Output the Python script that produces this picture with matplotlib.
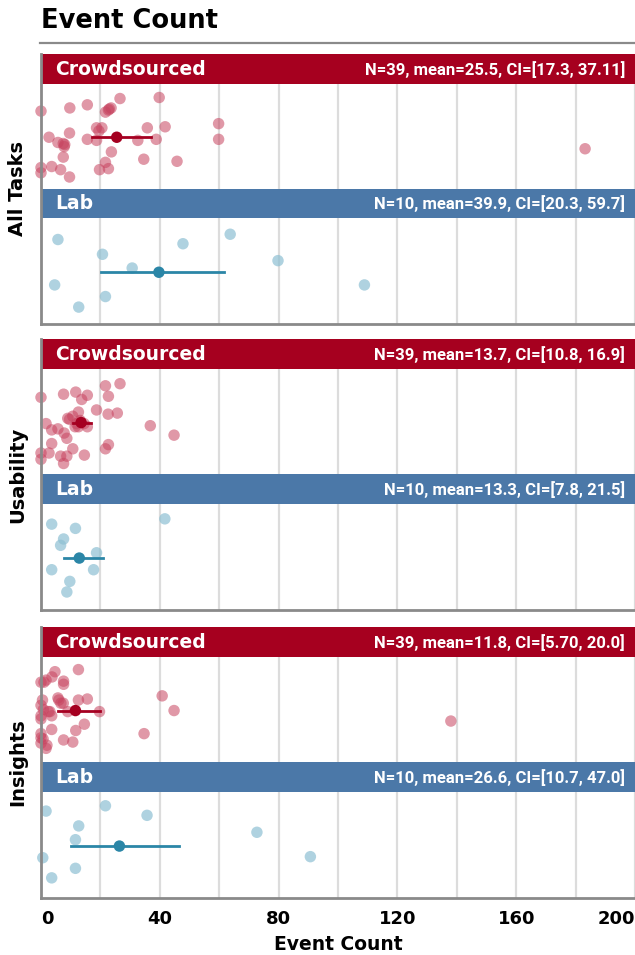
import matplotlib
matplotlib.use("Agg")
import matplotlib.pyplot as plt
from matplotlib.patches import Rectangle
from matplotlib.lines import Line2D
import matplotlib.transforms as mtransforms

plt.rcParams['font.family'] = ['DejaVu Sans']

# ---------------- data ----------------
tasks = ["All Tasks", "Usability", "Insights"]
groups = ["Crowdsourced", "Lab"]

# All Tasks
all_crowd_vals = [0, 9.7, 15.6, 26.6, 39.8, 23.6, 22.7, 21.7, 59.8, 41.8, 35.8, 18.7, 19.5,
                  9.6, 2.7, 15.6, 18.7, 32.6, 38.8, 59.8, 5.7, 7.5, 7.8, 7.5, 23.7, 21.7,
                  34.6, 45.8, 0, 0, 3.6, 6.6, 9.6, 19.7, 22.7, 183.2, 20.5, 8.0, 23.0]
all_crowd_jit = [0.26, 0.23, 0.20, 0.14, 0.13, 0.23, 0.25, 0.27, 0.38, 0.41, 0.42, 0.42, 0.45,
                 0.47, 0.51, 0.53, 0.54, 0.54, 0.53, 0.53, 0.56, 0.57, 0.60, 0.70, 0.65, 0.75,
                 0.72, 0.74, 0.80, 0.85, 0.79, 0.82, 0.89, 0.82, 0.81, 0.62, 0.42, 0.58, 0.24]
all_lab_vals = [5.7, 20.7, 47.8, 63.7, 79.8, 30.7, 4.6, 21.7, 12.7, 108.9]
all_lab_jit = [0.20, 0.34, 0.24, 0.15, 0.40, 0.47, 0.63, 0.74, 0.84, 0.63]

# Usability
usa_crowd_vals = [0, 7.6, 11.7, 15.6, 13.7, 21.7, 26.6, 22.7, 18.7, 12.6, 9.6, 10.7, 22.6,
                  25.7, 1.7, 3.6, 5.7, 7.8, 8.7, 12.6, 15.6, 36.8, 44.8, 3.6, 10.7, 21.7,
                  22.7, 0, 0, 2.7, 6.6, 8.7, 7.6, 14.6, 12.0, 14.5, 13.2, 9.0, 11.5]
usa_crowd_jit = [0.27, 0.24, 0.22, 0.25, 0.29, 0.16, 0.14, 0.26, 0.39, 0.41, 0.48, 0.45, 0.43,
                 0.42, 0.52, 0.58, 0.57, 0.61, 0.66, 0.55, 0.55, 0.54, 0.63, 0.71, 0.76, 0.76,
                 0.72, 0.80, 0.86, 0.80, 0.83, 0.83, 0.90, 0.82, 0.52, 0.52, 0.49, 0.47, 0.55]
usa_lab_vals = [3.6, 11.6, 7.6, 6.6, 18.7, 41.7, 3.6, 17.7, 9.7, 8.7]
usa_lab_jit = [0.19, 0.23, 0.33, 0.39, 0.46, 0.14, 0.62, 0.62, 0.73, 0.83]

# Insights
ins_crowd_vals = [0, 1.7, 3.7, 4.7, 7.6, 7.6, 12.6, 40.8, 44.8, 5.7, 7.5, 12.6, 15.6, 0, 0.8,
                  2.5, 3.6, 0, 0, 19.7, 14.6, 11.7, 3.6, 34.7, 0, 0, 0, 0.7, 1.7, 7.6, 10.7,
                  6.7, 138.0, 1.0, 2.0, 6.0, 9.0, 0.5, 3.0]
ins_crowd_jit = [0.24, 0.22, 0.19, 0.14, 0.23, 0.26, 0.12, 0.37, 0.51, 0.39, 0.44, 0.41, 0.40,
                 0.46, 0.50, 0.52, 0.56, 0.56, 0.59, 0.52, 0.64, 0.70, 0.69, 0.73, 0.73, 0.77,
                 0.82, 0.78, 0.87, 0.79, 0.81, 0.44, 0.61, 0.24, 0.84, 0.41, 0.52, 0.41, 0.52]
ins_lab_vals = [1.7, 21.7, 35.7, 12.7, 11.6, 72.7, 0.6, 90.7, 11.6, 3.6]
ins_lab_jit = [0.18, 0.13, 0.22, 0.32, 0.45, 0.38, 0.62, 0.61, 0.72, 0.81]

# summary stats (as drawn): [crowd, lab] per task
means = [[25.5, 39.7], [13.5, 12.9], [11.6, 26.4]]
ci_low = [[17.3, 20.2], [10.8, 7.6], [5.6, 10.2]]
ci_high = [[37.1, 61.5], [16.9, 20.8], [20.0, 46.6]]
stat_labels = [["N=39, mean=25.5, CI=[17.3, 37.11]", "N=10, mean=39.9, CI=[20.3, 59.7]"],
               ["N=39, mean=13.7, CI=[10.8, 16.9]", "N=10, mean=13.3, CI=[7.8, 21.5]"],
               ["N=39, mean=11.8, CI=[5.70, 20.0]", "N=10, mean=26.6, CI=[10.7, 47.0]"]]

vals = [[all_crowd_vals, all_lab_vals], [usa_crowd_vals, usa_lab_vals], [ins_crowd_vals, ins_lab_vals]]
jits = [[all_crowd_jit, all_lab_jit], [usa_crowd_jit, usa_lab_jit], [ins_crowd_jit, ins_lab_jit]]

x_ticks = list(range(0, 201, 20))
x_tick_labels = [str(t) if t % 40 == 0 else "" for t in x_ticks]

# ---------------- style ----------------
W, H = 635, 955
header_colors = ["#a6001f", "#4b78a8"]
point_colors = ["#c7435f", "#8ec0d3"]
point_alpha = [0.55, 0.7]
mean_colors = ["#a50021", "#2b86a7"]
grid_color = "#dcdcdc"
spine_color = "#8a8a8a"
stat_font = ['Roboto', 'DejaVu Sans']

fig = plt.figure(figsize=(W / 100, H / 100), dpi=100)

panel_tops = [54, 339, 627]
panel_bottoms = [324, 610, 898]
left_px = 41
PH = 271
# bands: (header_top, header_bottom, band_top, band_bottom) in axes pixels from top
bands = [(0, 30, 30, 135), (135, 165, 165, 271)]

axes = []
for i, task in enumerate(tasks):
    top, bot = panel_tops[i], panel_bottoms[i]
    ax = fig.add_axes([left_px / W, 1 - bot / H, (W - left_px) / W, (bot - top) / H])
    axes.append(ax)
    ax.set_xlim(0, 200)
    ax.set_ylim(PH, 0)
    ax.set_xticks(x_ticks)
    ax.grid(axis='x', color=grid_color, linewidth=1.6, zorder=0)
    ax.set_axisbelow(True)
    ax.set_yticks([])
    for s in ["top", "right"]:
        ax.spines[s].set_visible(False)
    for s in ["left", "bottom"]:
        ax.spines[s].set_color(spine_color)
        ax.spines[s].set_linewidth(2)
        ax.spines[s].set_zorder(5)
    ax.tick_params(axis='x', length=0)
    if i < 2:
        ax.set_xticklabels([])
    else:
        ax.set_xticklabels(x_tick_labels, fontsize=13, fontweight='bold')
        ax.tick_params(axis='x', pad=9)
        lbls = ax.get_xticklabels()
        lbls[0].set_horizontalalignment('left')
        lbls[-1].set_horizontalalignment('right')

    trans = mtransforms.blended_transform_factory(ax.transAxes, ax.transData)
    for g in range(2):
        htop, hbot, btop, bbot = bands[g]
        ax.add_patch(Rectangle((0, htop), 1, hbot - htop, transform=trans,
                               facecolor=header_colors[g], edgecolor='none', zorder=2,
                               clip_on=False))
        ax.text(14 / (W - left_px), (htop + hbot) / 2 + 0.5, groups[g], transform=trans,
                color='white', fontsize=13.5, fontweight='bold', ha='left', va='center', zorder=4)
        ax.text(1 - 10 / (W - left_px), (htop + hbot) / 2 + 0.5, stat_labels[i][g], transform=trans,
                color='white', fontsize=12, fontweight='bold', family=stat_font,
                ha='right', va='center', zorder=4)
        ys = [btop + j * (bbot - btop) for j in jits[i][g]]
        ax.scatter(vals[i][g], ys, s=68, color=point_colors[g], alpha=point_alpha[g],
                   edgecolors='none', zorder=3, clip_on=False)
        ym = btop + 0.51 * (bbot - btop)
        ax.plot([ci_low[i][g], ci_high[i][g]], [ym, ym], color=mean_colors[g], lw=2, zorder=4)
        ax.scatter([means[i][g]], [ym], s=68, color=mean_colors[g], edgecolors='none', zorder=5)

    fig.text(18 / W, 1 - ((top + bot) / 2) / H, task, rotation=90, ha='center', va='center',
             fontsize=14, fontweight='bold')

fig.text(left_px / W, 1 - 21 / H, "Event Count", ha='left', va='center', fontsize=18.5,
         fontweight='bold')
fig.add_artist(Line2D([40 / W, 1], [1 - 43 / H, 1 - 43 / H], color=spine_color, lw=1.6))
fig.text(338 / W, 1 - 944 / H, "Event Count", ha='center', va='center', fontsize=13.5,
         fontweight='bold')

fig.savefig("out.png", dpi=100)
